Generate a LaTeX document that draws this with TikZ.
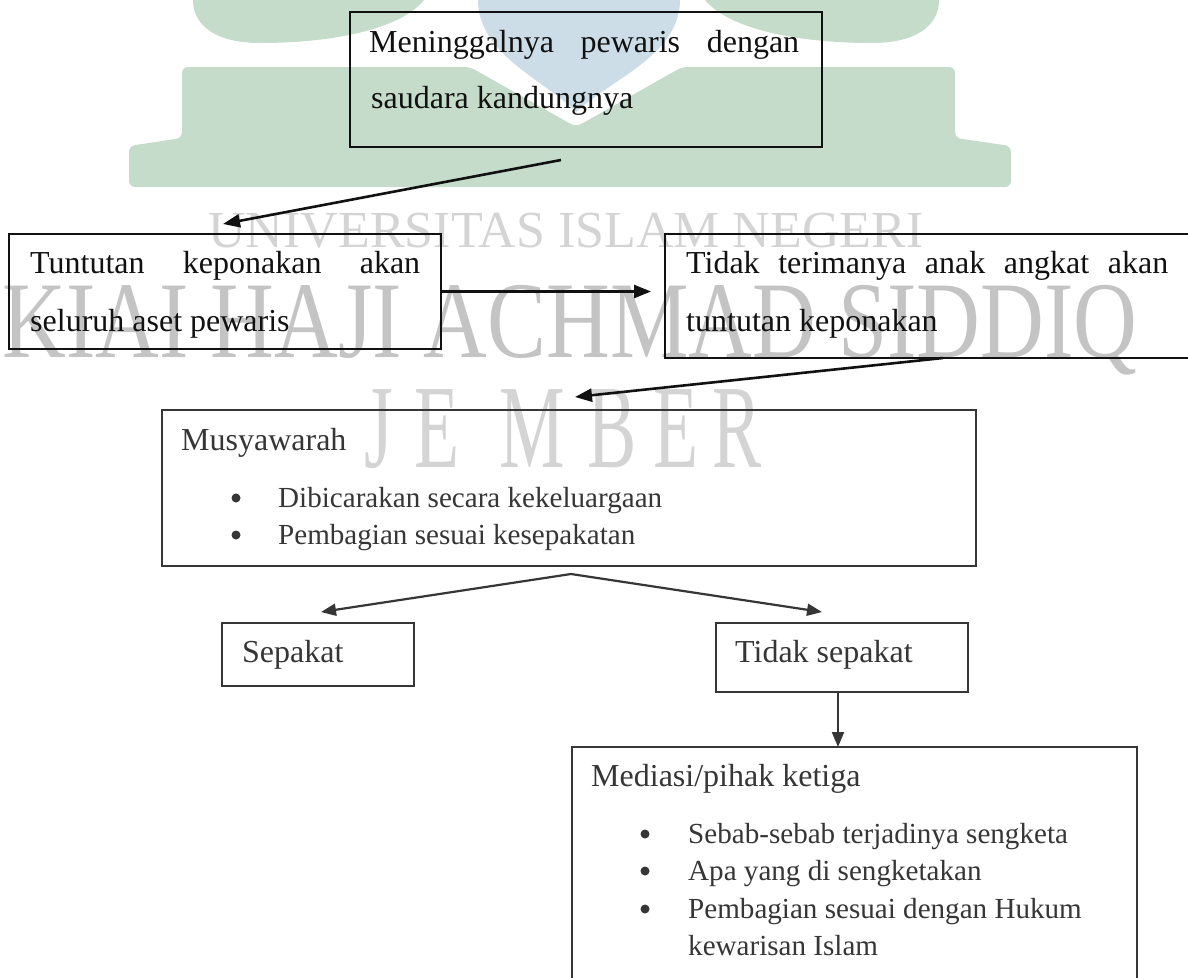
\documentclass[tikz,border=0pt]{standalone}
\usepackage{fontspec}
\setmainfont{Liberation Serif}
\usetikzlibrary{arrows.meta,calc}
\definecolor{wmgreen}{HTML}{C6DCCB}
\definecolor{wmblue}{HTML}{CCDDE8}
\definecolor{wmtext}{HTML}{D4D4D4}
\definecolor{wmtextb}{HTML}{C4C4C4}
\definecolor{ink}{HTML}{111111}
\definecolor{ink2}{HTML}{363636}
\begin{document}
\begin{tikzpicture}[x=1pt,y=-1pt,
  box/.style={draw=ink2, line width=2pt, inner sep=0pt, outer sep=0pt, anchor=north west},
  openbox/.style={draw=none, inner sep=0pt, outer sep=0pt, anchor=north west},
  txt/.style={anchor=base west, inner sep=0pt, font=\fontsize{32}{38}\selectfont, text=ink},
  txtb/.style={anchor=base west, inner sep=0pt, font=\fontsize{32}{38}\selectfont, text=ink2},
  btxt/.style={anchor=base west, inner sep=0pt, font=\fontsize{29.1}{34}\selectfont, text=ink2},
  dot/.style={circle, fill=ink2, inner sep=0pt, minimum size=9pt},
  wm/.style={inner sep=0pt, anchor=base},
  arr/.style={line width=2.6pt, draw=ink, -{Triangle[length=17pt,width=13pt]}},
  arrb/.style={line width=2.2pt, draw=ink2, -{Triangle[length=15pt,width=12pt]}},
]
\useasboundingbox (0,0) rectangle (1188,977);
\fill[white] (0,0) rectangle (1188,977);

% ---------- watermark ----------
\fill[wmgreen, rounded corners=6pt] (182,67) -- (470,67) -- (576,127) -- (682,67) -- (955,67) -- (955,138) -- (1011,146) -- (1011,187) -- (129,187) -- (129,146) -- (182,138) -- cycle;
\fill[wmgreen] (193,0) -- (424,0) .. controls (400,30) and (330,43) .. (260,43) .. controls (215,43) and (193,25) .. (193,0) -- cycle;
\fill[wmgreen] (705,0) -- (939,0) .. controls (939,25) and (917,43) .. (872,43) .. controls (800,43) and (730,30) .. (705,0) -- cycle;
\fill[wmblue] (478,0) -- (680,0) .. controls (680,55) and (610,80) .. (576,112) .. controls (545,80) and (478,55) .. (478,0) -- cycle;

\node[wm, font=\fontsize{52}{52}\selectfont, text=wmtext] (wm1) at (566,247) {UNIVERSITAS ISLAM NEGERI};
\node[wm, font=\fontsize{109}{109}\selectfont, text=wmtextb] (wm2) at (570,357) {\scalebox{0.81}[1]{KIAI HAJI ACHMAD SIDDIQ}};
\foreach \l/\xx [count=\i] in {J/379,E/437,M/532,B/612,E/676,R/737}
  \node[wm, font=\fontsize{119}{119}\selectfont, text=wmtext] (wmj\i) at (\xx,467) {\scalebox{0.62}[1]{\l}};

% ---------- boxes ----------
\node[box, draw=ink, minimum width=472pt, minimum height=135pt] (b1) at (350,12) {};
\node[box, draw=ink, minimum width=432pt, minimum height=115pt] (b2) at (9,234) {};
\node[openbox, minimum width=523pt, minimum height=124pt] (b3) at (665,234) {};
\draw[ink, line width=2pt] (b3.north east) -- (b3.north west) -- (b3.south west) -- (b3.south east);
\node[box, minimum width=814pt, minimum height=156pt] (b4) at (162,410) {};
\node[box, minimum width=192pt, minimum height=63pt] (b6) at (222,623) {};
\node[box, minimum width=252pt, minimum height=69pt] (b7) at (716,623) {};
\node[openbox, minimum width=565pt, minimum height=232pt] (b8) at (572,747) {};
\draw[ink2, line width=2pt] (b8.south west) -- (b8.north west) -- (b8.north east) -- (b8.south east);

% ---------- texts ----------
\node[txt] (t1a) at (369,52) {\makebox[430pt][s]{Meninggalnya pewaris dengan}};
\node[txt] (t1b) at (371,108) {saudara kandungnya};
\node[txt] (t2a) at (30,273) {\makebox[390pt][s]{Tuntutan keponakan akan}};
\node[txt] (t2b) at (30,331) {seluruh aset pewaris};
\node[txt] (t3a) at (686,273) {\makebox[482pt][s]{Tidak terimanya anak angkat akan}};
\node[txt] (t3b) at (686,331) {tuntutan keponakan};

\node[txtb] (t4) at (181,450) {Musyawarah};
\node[dot] (d4a) at (236,498) {};
\node[btxt] (t4a) at (278,507) {Dibicarakan secara kekeluargaan};
\node[dot] (d4b) at (236,535) {};
\node[btxt] (t4b) at (278,544) {Pembagian sesuai kesepakatan};

\node[txtb] (t6) at (242,662) {Sepakat};
\node[txtb] (t7) at (735,662) {Tidak sepakat};

\node[txtb] (t8) at (591,786) {Mediasi/pihak ketiga};
\node[dot] (d8a) at (645,834) {};
\node[btxt] (t8a) at (688,843) {Sebab-sebab terjadinya sengketa};
\node[dot] (d8b) at (645,871) {};
\node[btxt] (t8b) at (688,880) {Apa yang di sengketakan};
\node[dot] (d8c) at (645,909) {};
\node[btxt] (t8c) at (688,918) {Pembagian sesuai dengan Hukum};
\node[btxt] (t8d) at (688,955) {kewarisan Islam};

% ---------- connectors ----------
\draw[arr] ($(b1.south)+(-25,13)$) -- ($(b2.north west)+(214,-10)$);
\draw[arr] (b2.east) -- ([xshift=-14pt]b3.west |- b2.east);
\draw[arr] ($(b3.south west)+(278,0)$) -- ($(b4.north)+(6,-13)$);
\coordinate (fork) at ($(b4.south)+(2,8)$);
\draw[arrb] (fork) -- ($(b6.north)+(3,-11)$);
\draw[arrb] (fork) -- ($(b7.north)+(-20,-11)$);
\draw[arrb] ([xshift=-4pt]b7.south) -- ([xshift=-4pt]b7.south |- b8.north);
\end{tikzpicture}
\end{document}
